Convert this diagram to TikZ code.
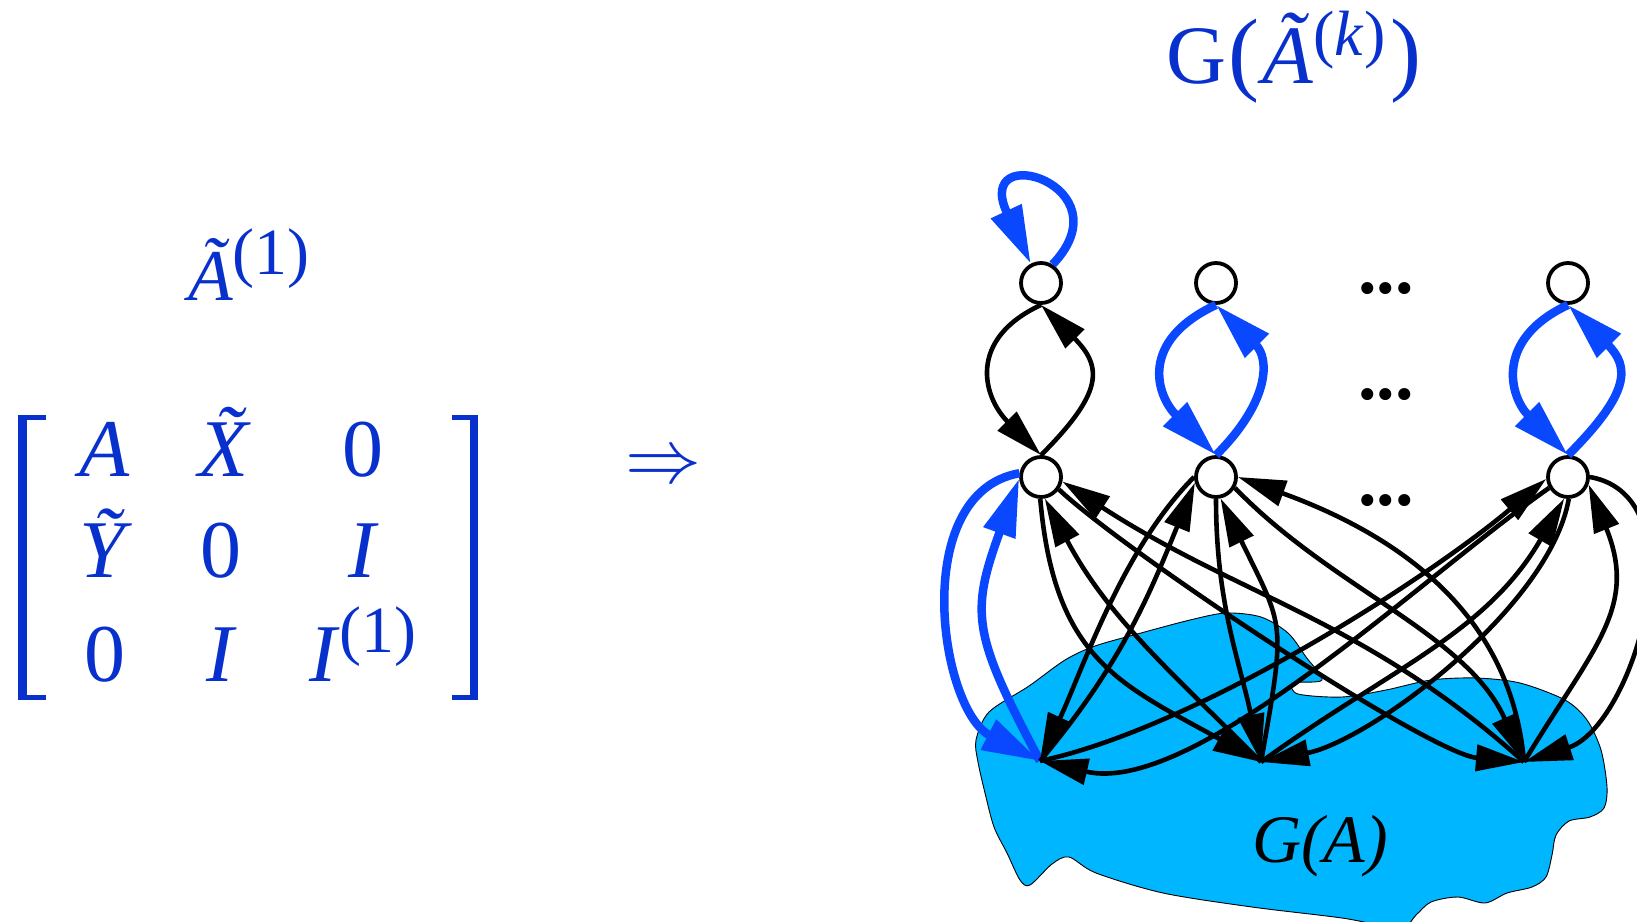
\documentclass[tikz,border=0pt]{standalone}
\usepackage{fix-cm}
\usepackage{fontspec}
\setmainfont{Liberation Serif}
\usetikzlibrary{arrows.meta}
\definecolor{txtblue}{RGB}{8,48,205}
\definecolor{edgeblue}{RGB}{10,72,255}
\definecolor{blobcyan}{RGB}{0,182,255}
\newcommand{\fs}[1]{\fontsize{#1}{#1}\selectfont}
\newcommand{\supr}[3]{\raisebox{#1pt}{\fs{#2}#3}}
\begin{document}
\begin{tikzpicture}[x=1pt,y=-1pt,
  vtx/.style={circle,draw=black,line width=3.8pt,fill=white,minimum size=40pt,inner sep=0pt},
  blk/.style={draw=black,line width=4.6pt,-{Triangle[length=48pt,width=26pt]}},
  blu/.style={draw=edgeblue,line width=8.5pt,-{Triangle[length=58pt,width=32pt]}},
  lbl/.style={text=txtblue,anchor=base,inner sep=0pt},
  mtx/.style={text=txtblue,anchor=base,inner sep=0pt,font=\fontsize{82}{82}\selectfont},
  dots/.style={anchor=base,inner sep=0pt,font=\fontsize{74}{74}\selectfont\bfseries},
  brk/.style={draw=txtblue,line cap=butt}
]
\fill[white] (0,0) rectangle (1637,921);
\useasboundingbox (0,0) rectangle (1637,921);

% blob G(A)
\filldraw[fill=blobcyan,draw=black,line width=0.9pt]
  plot[smooth cycle,tension=0.5] coordinates {
  (976,740) (989,712) (1029,686) (1065,660) (1095,646) (1141,633) (1190,620)
  (1226,613) (1261,617) (1288,633) (1306,657) (1322,680) (1293,683) (1298,694)
  (1342,697) (1386,690) (1431,680) (1476,678) (1520,683) (1565,700) (1587,720)
  (1601,750) (1607,787) (1604,808) (1590,817) (1569,821) (1556,835) (1552,855)
  (1546,877) (1532,887) (1507,893) (1485,903) (1458,897) (1431,902) (1416,915)
  (1400,928) (1342,918) (1252,907) (1163,893) (1096,873) (1069,857) (1052,864)
  (1030,885) (1020,880) (1007,853) (994,827) (985,793) (978,762)};
\node[anchor=base,inner sep=0pt] (ga) at (1320,862) {\fs{68}\textit{G(A)}};

% labels
\node[lbl] (title) at (1294,83) {\fs{83}G\kern2pt{\fs{93}(}\kern3pt\textit{Ã}\supr{28}{64}{(\textit{k})}\kern5pt{\fs{93})}};
\node[lbl] (atil) at (249,300) {\fs{73}\textit{Ã}\supr{26}{66}{(1)}};

% matrix
\draw[brk,line width=5pt] (46,417.5) -- (18,417.5);
\draw[brk,line width=5pt] (46,697.5) -- (18,697.5);
\draw[brk,line width=8.5pt] (22.5,415) -- (22.5,700);
\draw[brk,line width=5pt] (452,417.5) -- (478,417.5);
\draw[brk,line width=5pt] (452,697.5) -- (478,697.5);
\draw[brk,line width=8.5pt] (474,415) -- (474,700);
\node[mtx] (m11) at (105,476) {\textit{A}};
\node[mtx] (m12) at (240,476) {\textit{X̃}};
\node[mtx] (m13) at (363,476) {0};
\node[mtx] (m21) at (106,577) {\textit{Ỹ}};
\node[mtx] (m22) at (221,577) {0};
\node[mtx] (m23) at (364,577) {\textit{I}};
\node[mtx] (m31) at (105,681) {0};
\node[mtx] (m32) at (222,681) {\textit{I}};
\node[mtx] (m33) at (363,681) {\textit{I}\supr{29}{66}{(1)}};
\node[text=txtblue,inner sep=0pt] (imp) at (663,469) {\fs{76}$\Rightarrow$};

% vertices
\node[vtx] (TL) at (1041,283) {};
\node[vtx] (TM) at (1216,283) {};
\node[vtx] (TR) at (1568,283) {};
\node[vtx] (BL) at (1041,477) {};
\node[vtx] (BM) at (1216,477) {};
\node[vtx] (BR) at (1568,477) {};
\coordinate (L) at (1040,761);
\coordinate (M) at (1261,762);
\coordinate (R) at (1524,762);
\node[dots] (d1) at (1386,293) {...};
\node[dots] (d2) at (1386,399) {...};
\node[dots] (d3) at (1386,505) {...};

% vertical pairs
\draw[blk] (TL.south) to[out=205,in=135,looseness=1.4] (BL.north);
\draw[blk] (BL.north) to[out=45,in=-45,looseness=1.5] (TL.south);
\draw[blu] (TM.south) to[out=205,in=135,looseness=1.45] (BM.north);
\draw[blu] (BM.north) to[out=45,in=-45,looseness=1.3] (TM.south);
\draw[blu] (TR.south) to[out=205,in=135,looseness=1.4] (BR.north);
\draw[blu] (BR.north) to[out=45,in=-45,looseness=1.5] (TR.south);

% self loop
\draw[blu] (TL.58) .. controls (1128,185) and (972,138) .. (TL.118);

% blue pair between BL and L
\draw[blu] (BL.170) to[out=190,in=153,looseness=1.0] (L);
\draw[blu] (L) to[out=118,in=250,looseness=1.3] (BL.184);

% black edges
\draw[blk] (BL.268) to[out=-85,in=151,looseness=1.2] (M);
\draw[blk] (M) to[out=135,in=-62] (BL.280);
\draw[blk] (BL.325) to[out=-43,in=175,looseness=0.45] (R);
\draw[blk] (R) to[out=138,in=-33] (BL.348);
\draw[blk] (BM.180) to[out=225,in=65,looseness=0.8] (L);
\draw[blk] (L) to[out=50,in=248] (BM.195);
\draw[blk] (BM.270) to[out=-90,in=102] (M);
\draw[blk] (M) to[out=80,in=-64,looseness=1.4] (BM.282);
\draw[blk] (BM.330) to[out=-46,in=114,looseness=0.9] (R);
\draw[blk] (R) to[out=95,in=-20] (BM.0);
\draw[blk] (L) to[out=12,in=220,looseness=0.7] (BR.185);
\draw[blk] (BR.210) to[out=215,in=-13,looseness=0.7] (L);
\draw[blk] (BR.272) to[out=260,in=11,looseness=0.7] (M);
\draw[blk] (M) to[out=36,in=240] (BR.260);
\draw[blk] (BR.0) to[out=-10,in=18] (R);
\draw[blk] (R) to[out=59,in=-68,looseness=1.2] (BR.340);
\end{tikzpicture}
\end{document}
